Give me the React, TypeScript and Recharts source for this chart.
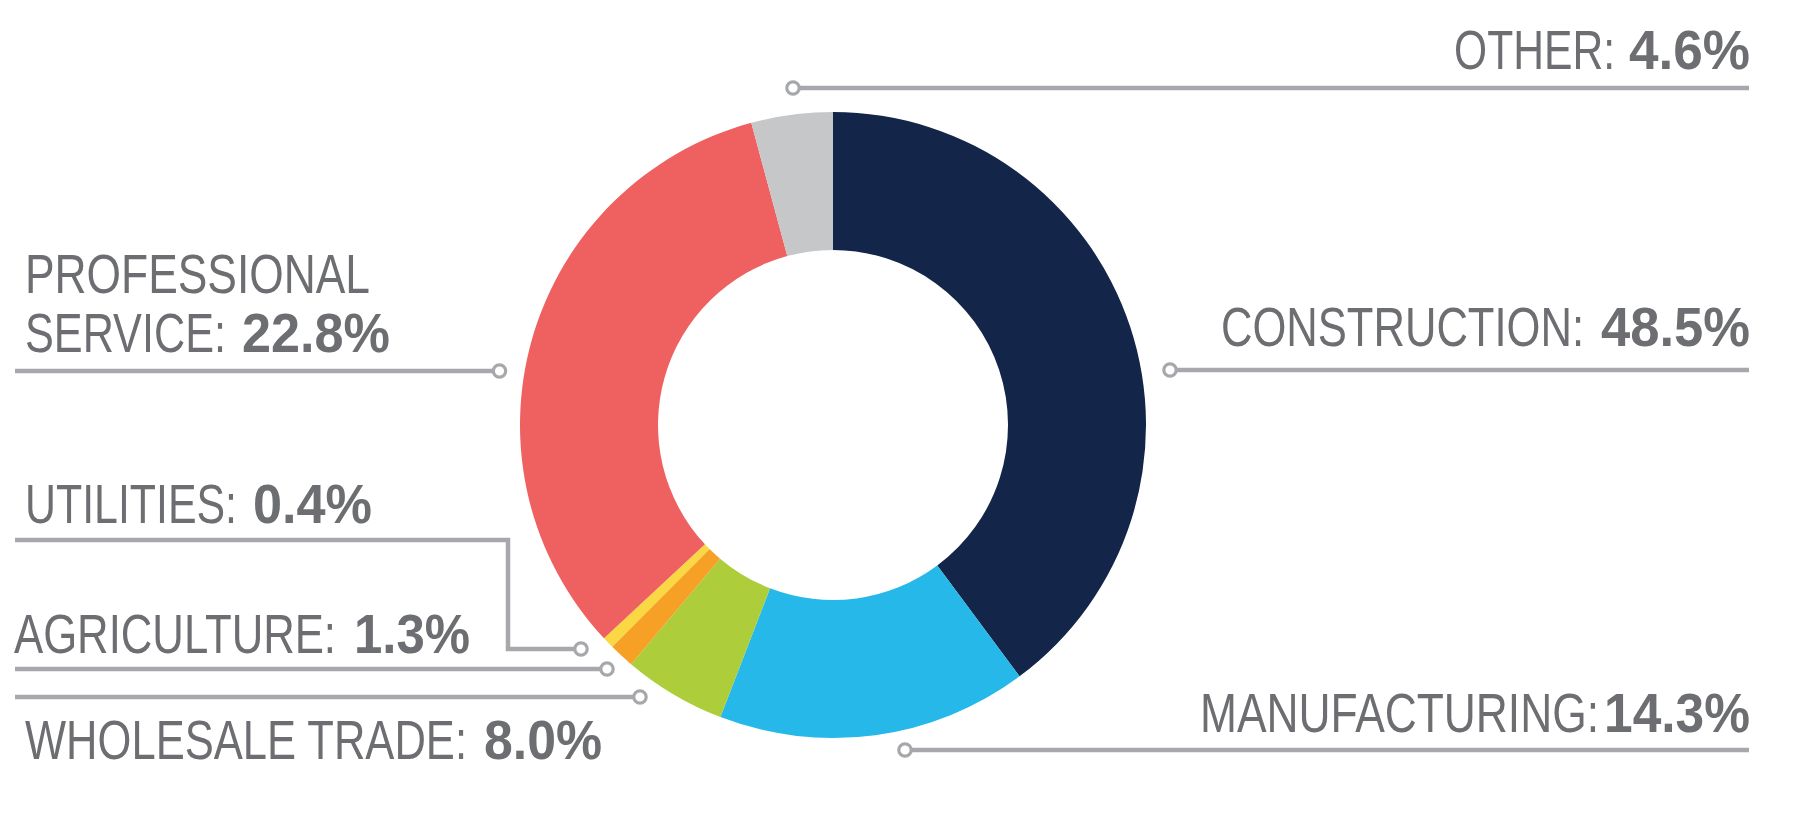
import { PieChart, Pie, Cell } from "recharts";

// slice sizes as drawn (share of the ring), clockwise from 12 o'clock
const categories = [
  "Construction",
  "Manufacturing",
  "Wholesale Trade",
  "Agriculture",
  "Utilities",
  "Professional Service",
  "Other",
];
const sliceShares = [39.8, 16.0, 5.3, 1.3, 0.6, 32.7, 4.2];
const labelNames = [
  "CONSTRUCTION:",
  "MANUFACTURING:",
  "WHOLESALE TRADE:",
  "AGRICULTURE:",
  "UTILITIES:",
  "PROFESSIONAL\nSERVICE:",
  "OTHER:",
];
const labelPercents = ["48.5%", "14.3%", "8.0%", "1.3%", "0.4%", "22.8%", "4.6%"];

const colors = ["#132548", "#26B8E8", "#ADCD3B", "#F6A126", "#F9D844", "#EF6160", "#C6C7C9"];
const lineColor = "#A7A8AB";
const textColor = "#6D6E71";
const font = "'Liberation Sans Narrow', 'Liberation Sans', sans-serif";

const chartData = categories.map((name, i) => ({ name, value: sliceShares[i] }));

// callout placement (ink extents): name lines (x, width, baseline), bold figure (x, width),
// and the leader line whose first point is the little ring
const labelLayout: any[] = [
  { nameX: [1224], nameW: [357], base: [346], pctX: 1603, pctW: 145, line: [[1170, 370], [1749, 370]] },
  { nameX: [1203], nameW: [393], base: [731.5], pctX: 1606, pctW: 142, line: [[905, 750], [1749, 750]] },
  { nameX: [28], nameW: [436], base: [759], pctX: 486, pctW: 114, line: [[640, 697], [15, 697]] },
  { nameX: [17], nameW: [316], base: [653], pctX: 356, pctW: 112, line: [[607, 669], [15, 669]] },
  { nameX: [28], nameW: [206], base: [523], pctX: 255, pctW: 115, line: [[581, 649], [508, 649], [508, 540], [15, 540]] },
  { nameX: [28, 28], nameW: [339, 195], base: [293, 352], pctX: 244, pctW: 144, line: [[499.5, 371], [15, 371]] },
  { nameX: [1457], nameW: [155], base: [68.5], pctX: 1631, pctW: 117, line: [[793, 88], [1749, 88]] },
];
// side bearings of the glyphs, so the ink lands on the measured extents
const nameBearing = 3;
const pctBearing = 2;

const renderLabel = (props: any) => {
  const i = props.index;
  const lay = labelLayout[i];
  const lines = labelNames[i].split("\n");
  const last = lines.length - 1;
  const d = lay.line
    .map((p: number[], k: number) => `${k ? "L" : "M"}${p[0]},${p[1]}`)
    .join(" ");
  const txt = { fontFamily: font, fontSize: 56, fill: textColor, lengthAdjust: "spacingAndGlyphs" } as any;
  return (
    <g key={`callout-${i}`}>
      <path d={d} fill="none" stroke={lineColor} strokeWidth={4.5} />
      <circle
        cx={lay.line[0][0]}
        cy={lay.line[0][1]}
        r={6.2}
        fill="#fff"
        stroke={lineColor}
        strokeWidth={3.2}
      />
      {lines.map((t: string, k: number) => (
        <text
          key={k}
          x={lay.nameX[k] - nameBearing}
          y={lay.base[k]}
          textLength={lay.nameW[k] + 2 * nameBearing}
          {...txt}
        >
          {t}
        </text>
      ))}
      <text
        x={lay.pctX - pctBearing}
        y={lay.base[last]}
        textLength={lay.pctW + 2 * pctBearing}
        fontWeight="bold"
        {...txt}
      >
        {labelPercents[i]}
      </text>
    </g>
  );
};

export default function App() {
  return (
    <div style={{ position: "absolute", left: 0, top: 0, width: 1817, height: 813, background: "#fff" }}>
      <PieChart width={1817} height={813} margin={{ top: 0, right: 0, bottom: 0, left: 0 }}>
        <Pie
          data={chartData}
          dataKey="value"
          nameKey="name"
          cx={833}
          cy={425}
          innerRadius={175}
          outerRadius={313}
          startAngle={90}
          endAngle={-270}
          stroke="none"
          label={renderLabel}
          labelLine={false}
          isAnimationActive={false}
        >
          {chartData.map((_, i) => (
            <Cell key={i} fill={colors[i]} />
          ))}
        </Pie>
      </PieChart>
    </div>
  );
}
